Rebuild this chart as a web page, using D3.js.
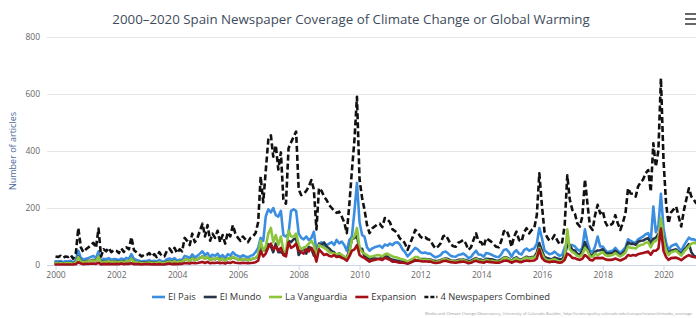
<!DOCTYPE html>
<html><head><meta charset="utf-8">
<script src="https://cdn.jsdelivr.net/npm/d3@7/dist/d3.min.js"></script>
<style>
body{margin:0;background:#fff;}
svg{display:block;font-family:"Open Sans",sans-serif;}
</style>
</head><body>
<svg id="chart" width="696" height="318"></svg>
<script>
// Monthly series, January 2000 .. February 2021 (one row per year)
const elPais = [
 13,12,14,10,13,12,15,9,17,50,25,19,
 22,25,28,32,24,48,12,22,20,24,18,21,
 20,17,23,18,25,22,38,21,18,15,12,14,
 14,17,12,15,11,18,13,12,20,23,18,24,
 15,19,17,32,29,24,37,27,32,40,48,34,
 42,28,36,32,40,27,35,25,38,33,45,36,
 32,28,34,30,27,32,35,45,60,95,85,170,
 195,185,200,175,170,190,105,100,110,190,195,190,
 110,95,90,100,88,95,117,50,70,80,66,70,
 75,80,70,88,76,82,70,50,88,100,190,288,
 150,105,100,62,50,58,62,65,68,60,72,68,
 75,70,78,80,72,55,45,30,40,50,60,55,
 45,42,44,40,40,32,27,30,35,45,47,40,
 32,30,29,35,37,40,34,24,28,40,50,37,
 36,29,42,40,37,32,29,28,38,53,55,45,
 29,45,52,40,37,52,58,50,55,58,75,130,
 95,52,44,38,40,47,39,32,36,62,80,70,
 70,65,55,50,60,125,80,50,45,65,100,65,
 65,52,45,48,50,60,50,42,52,62,90,85,
 80,78,90,95,100,108,112,85,205,115,140,250,
 130,78,52,66,70,74,61,48,68,82,96,90,
 90,85
];
const elMundo = [
 7,7,8,6,7,6,8,5,9,30,14,10,
 13,15,16,18,14,30,7,13,11,14,10,12,
 12,10,13,11,14,12,22,12,10,9,7,9,
 8,10,7,9,7,10,7,7,11,13,10,14,
 9,12,10,20,18,15,24,17,20,25,30,22,
 28,18,22,20,25,17,22,16,24,21,28,23,
 20,18,21,19,17,20,22,25,30,70,50,55,
 73,65,45,75,45,45,40,40,85,80,90,93,
 35,50,60,40,64,58,33,33,75,70,79,65,
 58,48,45,29,41,27,28,25,52,90,95,102,
 55,57,30,25,22,24,23,22,23,25,30,30,
 22,18,17,15,12,12,10,8,10,13,15,16,
 21,21,21,20,19,16,14,15,17,21,23,21,
 16,15,15,18,18,19,17,14,15,20,24,19,
 19,15,22,21,20,18,15,15,20,26,27,22,
 15,23,27,20,19,25,29,25,28,29,43,77,
 50,28,25,22,20,26,23,20,20,35,70,70,
 53,51,39,37,50,80,58,37,34,46,51,52,
 55,43,40,41,42,50,42,35,42,51,79,74,
 75,71,81,85,86,91,94,74,92,95,110,112,
 98,58,41,50,53,55,46,37,52,62,73,45,
 32,29
];
const laVanguardia = [
 6,5,6,5,6,6,7,4,8,28,12,9,
 11,13,15,16,13,30,6,11,10,13,10,11,
 10,9,12,10,13,12,22,11,10,8,6,7,
 7,9,6,8,6,10,7,6,10,12,10,13,
 9,12,10,20,18,15,23,17,20,25,30,21,
 29,18,23,20,25,17,22,16,24,21,29,23,
 20,18,21,19,17,20,22,25,35,85,50,65,
 110,130,80,105,70,100,50,45,120,100,100,110,
 70,55,60,65,75,85,70,30,70,65,60,55,
 45,42,40,38,40,36,30,22,45,90,100,130,
 60,45,40,35,28,30,32,35,34,30,38,40,
 35,30,28,26,22,20,17,12,17,22,28,28,
 20,18,19,18,17,13,10,12,14,20,20,17,
 14,12,12,15,16,17,14,9,11,16,22,15,
 15,12,18,16,15,13,12,11,16,24,25,20,
 12,20,24,17,16,24,26,22,25,26,35,60,
 40,22,18,15,18,20,16,12,14,25,125,55,
 45,40,32,30,38,60,50,30,28,40,35,40,
 45,35,32,33,35,42,35,30,36,44,65,60,
 60,58,66,70,72,78,80,62,80,85,95,165,
 90,52,35,45,47,50,41,33,46,56,65,75,
 78,75
];
const expansion = [
 2,2,2,2,2,2,2,2,3,10,5,3,
 4,4,5,5,4,8,2,4,3,4,3,3,
 4,3,5,3,4,4,6,3,3,3,2,3,
 3,3,2,3,2,3,2,2,4,5,3,4,
 3,4,4,7,6,5,8,6,7,9,11,7,
 11,6,8,7,9,6,8,5,9,7,11,8,
 7,6,8,7,6,7,8,10,15,50,30,40,
 62,75,55,65,50,60,35,30,80,60,65,75,
 50,45,40,55,48,60,45,12,55,45,35,38,
 32,30,35,28,30,25,22,15,30,50,55,70,
 35,28,25,18,12,16,18,20,20,18,25,22,
 18,12,12,10,8,8,7,4,8,12,18,15,
 14,12,13,12,12,9,7,8,10,14,15,12,
 10,9,8,10,11,12,10,6,8,12,15,11,
 10,8,12,11,10,9,8,8,11,15,16,13,
 8,12,14,11,10,14,16,14,15,16,22,55,
 25,15,12,10,12,12,10,8,10,18,40,35,
 25,24,20,18,22,35,28,18,16,24,25,24,
 25,20,18,18,19,23,19,16,20,24,35,32,
 35,33,38,40,42,45,47,36,50,50,58,128,
 50,28,18,24,25,26,22,17,24,30,35,30,
 28,26
];
const combined = [
 30,28,32,25,30,28,35,22,40,130,62,45,
 55,62,70,78,60,128,30,55,48,60,45,52,
 50,42,58,46,62,55,98,52,45,38,30,36,
 35,42,30,38,28,45,32,30,50,58,45,60,
 42,55,48,95,85,70,110,80,95,120,145,100,
 140,85,110,95,120,80,105,75,115,100,140,110,
 95,85,100,90,80,95,100,112,150,310,220,330,
 440,455,380,420,335,395,230,215,410,430,450,468,
 265,245,250,260,275,298,265,125,270,260,240,228,
 210,200,190,183,187,170,150,112,215,330,440,590,
 300,235,195,140,112,128,135,142,145,133,165,160,
 150,125,120,110,93,88,75,53,75,97,123,115,
 100,93,97,90,88,70,58,65,76,100,105,90,
 72,66,64,78,82,88,75,53,62,88,111,82,
 80,64,94,88,82,72,64,62,85,118,123,100,
 64,100,117,88,82,115,129,111,123,129,175,322,
 210,117,99,85,90,105,88,72,80,140,315,230,
 193,180,146,135,170,300,216,135,123,175,211,181,
 190,150,135,140,146,175,146,123,150,181,269,251,
 250,240,275,290,300,322,333,257,427,345,403,655,
 368,216,146,185,195,205,170,135,190,230,269,240,
 228,215
];
const seriesNames = ["El Pais","El Mundo","La Vanguardia","Expansion","4 Newspapers Combined"];
const yTicks = [0,200,400,600,800];
const xTickYears = [2000,2002,2004,2006,2008,2010,2012,2014,2016,2018,2020];
const titleText = "2000\u20132020 Spain Newspaper Coverage of Climate Change or Global Warming";
const yTitle = "Number of articles";
const creditText = "Media and Climate Change Observatory, University of Colorado Boulder, http://sciencepolicy.colorado.edu/icecaps/research/media_coverage";

const months = d3.range(combined.length).map(i => new Date(2000, i, 1));
const series = [
  {name: seriesNames[0], values: elPais, color: "#3b8de0", dash: null},
  {name: seriesNames[1], values: elMundo, color: "#263648", dash: null},
  {name: seriesNames[2], values: laVanguardia, color: "#8cc43c", dash: null},
  {name: seriesNames[3], values: expansion, color: "#a3101a", dash: null},
  {name: seriesNames[4], values: combined, color: "#111111", dash: "6,3"}
];

const svg = d3.select("#chart");
const plotLeft = 47, plotRight = 700, plotTop = 30, plotBottom = 265;

const x = d3.scaleTime().domain([new Date(2000,0,1), new Date(2020,0,1)]).range([55.5, 663.5]);
const y = d3.scaleLinear().domain([0,800]).range([265,37]);

// title
svg.append("text").attr("x",351).attr("y",24).attr("text-anchor","middle")
  .attr("font-size","13.3px").attr("fill","#3e4b5c").text(titleText);

// hamburger
const hb = svg.append("g").attr("stroke","#666").attr("stroke-width",2);
[14,19,24].forEach(v => hb.append("line").attr("x1",685).attr("x2",697).attr("y1",v).attr("y2",v));

// grid
svg.append("g").selectAll("line").data(yTicks.filter(d=>d>0)).join("line")
  .attr("x1",plotLeft).attr("x2",plotRight)
  .attr("y1",d=>Math.round(y(d))+0.5).attr("y2",d=>Math.round(y(d))+0.5)
  .attr("stroke","#e6e6e6").attr("stroke-width",1);

// y axis labels
const yAxis = d3.axisLeft(y).tickValues(yTicks).tickSize(0).tickPadding(0);
const yg = svg.append("g").attr("transform","translate(40,0)").call(yAxis);
yg.select(".domain").remove();
yg.selectAll("text").attr("font-size","8.5px").attr("fill","#666").attr("font-family","Open Sans, sans-serif");

svg.append("text").attr("transform","translate(16,151) rotate(-90)")
  .attr("text-anchor","middle").attr("font-size","9px").attr("fill","#4a6c9c").text(yTitle);

// x axis
const xAxis = d3.axisBottom(x).tickValues(xTickYears.map(yv=>new Date(yv,0,1)))
  .tickFormat(d3.timeFormat("%Y")).tickSize(5).tickPadding(2);
const xg = svg.append("g").attr("transform",`translate(0,${plotBottom})`).call(xAxis);
xg.select(".domain").attr("d",`M${plotLeft},0.5H${plotRight}`).attr("stroke","#ccd6eb");
xg.selectAll(".tick line").attr("stroke","#ccd6eb");
xg.selectAll("text").attr("font-size","8.5px").attr("fill","#666").attr("font-family","Open Sans, sans-serif");

// clip
svg.append("clipPath").attr("id","clip").append("rect")
  .attr("x",plotLeft).attr("y",plotTop).attr("width",plotRight-plotLeft).attr("height",plotBottom-plotTop+3);

const line = d3.line().x((d,i)=>x(months[i])).y(d=>y(d));
const lg = svg.append("g").attr("clip-path","url(#clip)");
series.forEach(s => {
  lg.append("path").datum(s.values).attr("d",line)
    .attr("fill","none").attr("stroke",s.color).attr("stroke-width",2.6)
    .attr("stroke-linejoin","round").attr("stroke-linecap", s.dash ? "butt" : "round")
    .attr("stroke-dasharray", s.dash);
});

// legend
const legend = svg.append("g");
let cx = 0;
series.forEach(s => {
  const g = legend.append("g").attr("transform",`translate(${cx},0)`);
  g.append("line").attr("x1",0).attr("x2",13).attr("y1",0).attr("y2",0)
    .attr("stroke",s.color).attr("stroke-width",2.6).attr("stroke-dasharray", s.dash ? "4,2" : null);
  const t = g.append("text").attr("x",16).attr("y",3.3).attr("font-size","9.4px").attr("fill","#333").text(s.name);
  cx += 16 + t.node().getComputedTextLength() + 8;
});
const lw = cx - 8;
legend.attr("transform",`translate(${351 - lw/2},297)`);

// credits (fitted into the remaining width)
const cr = svg.append("text").attr("x",425).attr("y",315).attr("font-size","5.5px").attr("fill","#999").text(creditText);
const crLen = cr.node().getComputedTextLength();
if (crLen > 268) cr.attr("font-size", (5.5*268/crLen).toFixed(2) + "px");
</script>
</body></html>
